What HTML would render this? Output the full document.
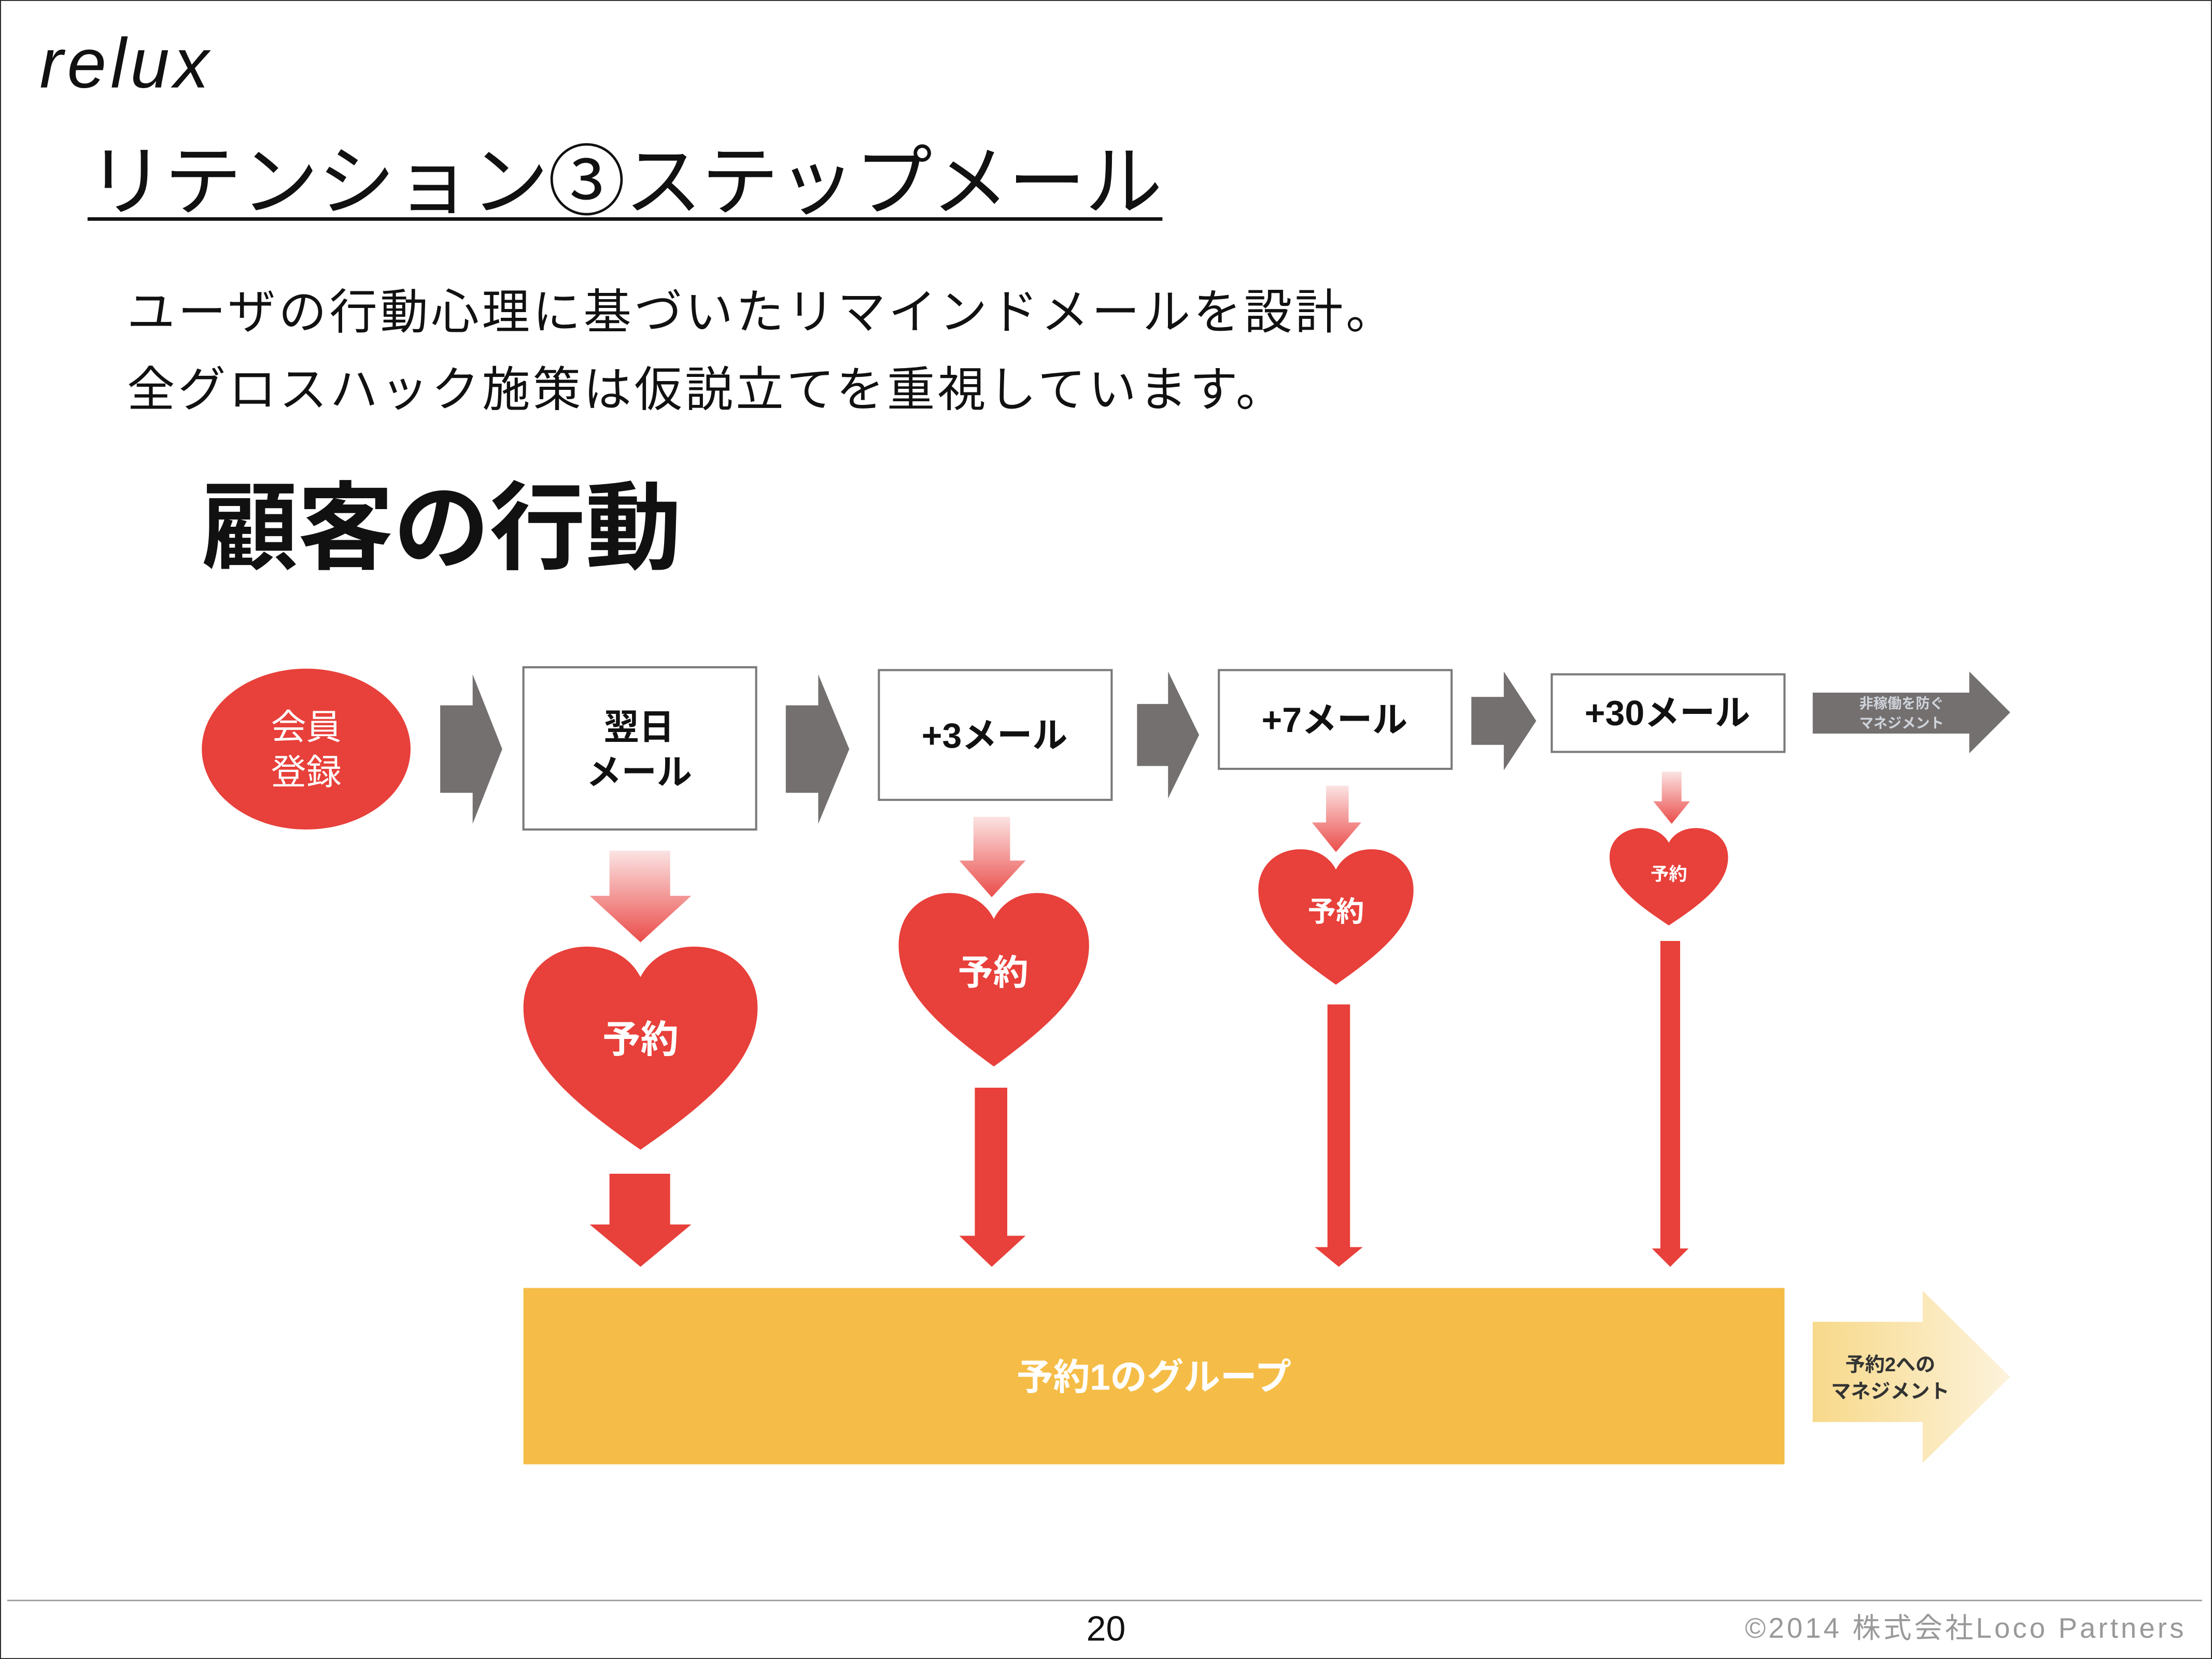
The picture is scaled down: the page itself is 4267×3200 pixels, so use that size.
<!DOCTYPE html>
<html><head><meta charset="utf-8">
<style>
html,body{margin:0;padding:0;background:#fff;}
svg{display:block;}
text{font-family:"Liberation Sans","Noto Sans CJK JP",sans-serif;}
</style></head>
<body>
<svg width="4267" height="3200" viewBox="0 0 1568 1176" xmlns="http://www.w3.org/2000/svg">
<defs>
<linearGradient id="pk" x1="0" y1="0" x2="0" y2="1">
<stop offset="0" stop-color="#fbe3e3"/><stop offset="1" stop-color="#ea4d4a"/>
</linearGradient>
<linearGradient id="yl" x1="0" y1="0" x2="1" y2="0">
<stop offset="0" stop-color="#f7d98a"/><stop offset="1" stop-color="#fdf3dc"/>
</linearGradient>
<path id="heart" d="M50,100 C20,76 0,56 0,30 C0,11 13,0 27,0 C38,0 46,6 50,15 C54,6 62,0 73,0 C87,0 100,11 100,30 C100,56 80,76 50,100 Z"/>
</defs>
<rect x="0" y="0" width="1568" height="1176" fill="#fff"/>
<rect x="0.3" y="0.3" width="1567.4" height="1175.4" fill="none" stroke="#222" stroke-width="0.7"/>

<text x="28" y="62" font-family="'Liberation Serif',serif" font-style="italic" font-size="50" fill="#111" textLength="120">relux</text>

<text x="62" y="148" font-size="55" fill="#111" textLength="762">リテンション③ステップメール</text>
<rect x="62" y="154" width="762" height="2.5" fill="#111"/>

<text x="90" y="233" font-size="34" fill="#111" textLength="898">ユーザの行動心理に基づいたリマインドメールを設計。</text>
<text x="90" y="288" font-size="34" fill="#111" textLength="820">全グロスハック施策は仮説立てを重視しています。</text>

<text x="143" y="398" font-size="68" font-weight="bold" fill="#111" textLength="340">顧客の行動</text>

<ellipse cx="217" cy="531" rx="74" ry="57" fill="#e8403a"/>
<text x="217" y="524" font-size="25" fill="#fff" text-anchor="middle">会員</text>
<text x="217" y="556" font-size="25" fill="#fff" text-anchor="middle">登録</text>

<g fill="#747070">
<polygon points="312,500 335,500 335,478 356,531 335,584 335,562 312,562"/>
<polygon points="557,500 580,500 580,478 602,531 580,584 580,562 557,562"/>
<polygon points="806,499 828,499 828,476 850,521 828,566 828,543 806,543"/>
<polygon points="1043,494 1066,494 1066,476 1089,511 1066,546 1066,528 1043,528"/>
<polygon points="1285,491 1396,491 1396,476 1425,505 1396,534 1396,520 1285,520"/>
</g>
<text x="1348" y="502" font-size="10" font-weight="bold" fill="#cfd3da" text-anchor="middle">非稼働を防ぐ</text>
<text x="1348" y="516" font-size="10" font-weight="bold" fill="#cfd3da" text-anchor="middle">マネジメント</text>

<g fill="#fff" stroke="#7a7a7a" stroke-width="1.5">
<rect x="371" y="473" width="165" height="115"/>
<rect x="623" y="475" width="165" height="92"/>
<rect x="864" y="475" width="165" height="70"/>
<rect x="1100" y="478" width="165" height="55"/>
</g>
<g font-size="25" font-weight="bold" fill="#111" text-anchor="middle">
<text x="453" y="524">翌日</text>
<text x="453" y="556">メール</text>
<text x="705" y="530">+3メール</text>
<text x="946" y="519">+7メール</text>
<text x="1182" y="514">+30メール</text>
</g>

<g fill="url(#pk)">
<polygon points="432,603 475,603 475,635 490,635 454,668 418,635 432,635"/>
<polygon points="690,579 716,579 716,610 727,610 703,636 680,610 690,610"/>
<polygon points="940,557 956,557 956,583 965,583 947,604 930,583 940,583"/>
<polygon points="1178,547 1192,547 1192,568 1198,568 1185,584 1172,568 1178,568"/>
</g>

<g fill="#e8403a">
<use href="#heart" transform="translate(371,671) scale(1.66,1.44)"/>
<use href="#heart" transform="translate(637,633) scale(1.35,1.23)"/>
<use href="#heart" transform="translate(892,602) scale(1.10,0.96)"/>
<use href="#heart" transform="translate(1141,587) scale(0.84,0.69)"/>
</g>
<g fill="#fff" text-anchor="middle" font-weight="bold">
<text x="454" y="746" font-size="27">予約</text>
<text x="704" y="698" font-size="25">予約</text>
<text x="947" y="653" font-size="20">予約</text>
<text x="1183" y="624" font-size="13">予約</text>
</g>

<g fill="#e8403a">
<polygon points="432,832 475,832 475,868 490,868 454,898 418,868 432,868"/>
<polygon points="691,771 714,771 714,876 727,876 703,898 680,876 691,876"/>
<polygon points="941,712 957,712 957,884 966,884 949,898 932,884 941,884"/>
<polygon points="1177,667 1191,667 1191,885 1197,885 1184,898 1171,885 1177,885"/>
</g>

<rect x="371" y="913" width="894" height="125" fill="#f5bd47"/>
<text x="818" y="985" font-size="26" fill="#fff" text-anchor="middle" font-weight="bold">予約1のグループ</text>
<polygon points="1285,937 1363,937 1363,915 1425,976 1363,1037 1363,1008 1285,1008" fill="url(#yl)"/>
<text x="1340" y="972" font-size="14" font-weight="bold" fill="#333" text-anchor="middle">予約2への</text>
<text x="1340" y="991" font-size="14" font-weight="bold" fill="#333" text-anchor="middle">マネジメント</text>

<rect x="5" y="1134" width="1556" height="1" fill="#999"/>
<text x="784" y="1163" font-size="25" fill="#111" text-anchor="middle">20</text>
<text x="1237" y="1161" font-size="20" fill="#999" textLength="311">©2014 株式会社Loco Partners</text>
</svg>
</body></html>
